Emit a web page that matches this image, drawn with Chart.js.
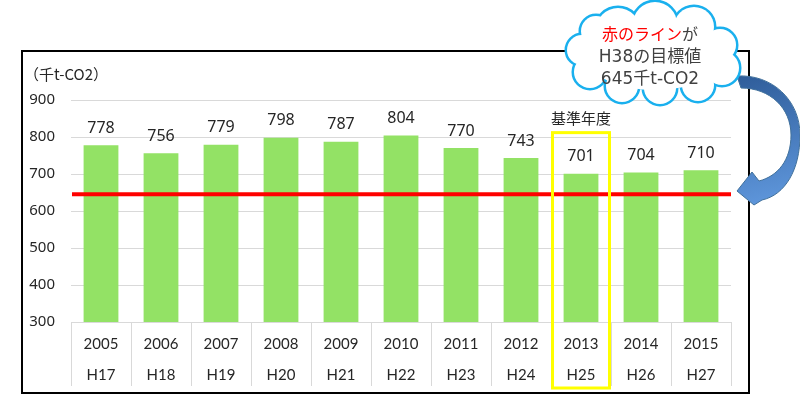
<!DOCTYPE html>
<html>
<head>
<meta charset="utf-8">
<script src="https://cdn.jsdelivr.net/npm/chart.js@4.4.0/dist/chart.umd.min.js"></script>
<style>
  html, body { margin: 0; padding: 0; background: #fff; }
  #wrap { position: relative; width: 800px; height: 396px; }
</style>
</head>
<body>
<div id="wrap"><canvas id="myChart" width="800" height="396"></canvas></div>
<script>
'use strict'

// DATA
var years = ["2005", "2006", "2007", "2008", "2009", "2010", "2011", "2012", "2013", "2014", "2015"];
var eras = ["H17", "H18", "H19", "H20", "H21", "H22", "H23", "H24", "H25", "H26", "H27"];
var emissions = [778, 756, 779, 798, 787, 804, 770, 743, 701, 704, 710];
var target = 645;
var baseYear = "2013";
var unitLabel = "（千t-CO2）";
var baseLabel = "基準年度";
var cloudLines = [["赤のライン", "が"], ["H38の目標値"], ["645千t-CO2"]];

var jp = '"Noto Sans CJK JP", "Noto Sans", sans-serif';
var num = '"Noto Sans", "Open Sans", sans-serif';

// circles that make the cloud outline
var cloudParts = [
    [618, 30, 22], [655, 24, 22], [694, 27, 20], [720, 45, 16], [722, 68, 17],
    [698, 85, 16], [660, 88, 16], [622, 86, 16], [590, 72, 16], [582, 50, 15], [596, 31, 15]
];

function drawCloud(ctx) {
    ctx.save();
    function shape() {
        cloudParts.forEach(function (c) {
            ctx.beginPath();
            ctx.arc(c[0], c[1], c[2], 0, Math.PI * 2);
            ctx.stroke();
            ctx.fill();
        });
        ctx.beginPath();
        ctx.ellipse(655, 57, 68, 33, 0, 0, Math.PI * 2);
        ctx.fill();
    }
    // thick blue pass, then white pass on top leaves the outer rim
    ctx.strokeStyle = '#1ab0ee';
    ctx.fillStyle = '#1ab0ee';
    ctx.lineWidth = 5;
    shape();
    ctx.strokeStyle = '#fff';
    ctx.fillStyle = '#fff';
    ctx.lineWidth = 0.01;
    shape();

    ctx.textBaseline = 'middle';
    ctx.textAlign = 'left';
    var ys = [34, 58, 80];
    cloudLines.forEach(function (parts, i) {
        ctx.font = i === 0 ? '16px ' + jp : '17px "DejaVu Sans", ' + jp;
        var w = 0;
        parts.forEach(function (p) { w += ctx.measureText(p).width; });
        var x = 650 - w / 2;
        parts.forEach(function (p, j) {
            ctx.fillStyle = (i === 0 && j === 0) ? '#ff0000' : '#404040';
            ctx.fillText(p, x, ys[i]);
            x += ctx.measureText(p).width;
        });
    });
    ctx.restore();
}

function drawArrow(ctx) {
    ctx.save();
    var g = ctx.createLinearGradient(740, 76, 770, 205);
    g.addColorStop(0, '#2f5d9a');
    g.addColorStop(1, '#5f97dc');
    ctx.beginPath();
    ctx.moveTo(737, 76);
    ctx.bezierCurveTo(772, 74, 800, 100, 800, 135);
    ctx.bezierCurveTo(800, 170, 785, 195, 762, 200);
    ctx.lineTo(754, 205);
    ctx.lineTo(737, 191);
    ctx.lineTo(752, 172);
    ctx.lineTo(759, 181);
    ctx.bezierCurveTo(778, 176, 791, 160, 791, 135);
    ctx.bezierCurveTo(791, 108, 770, 88, 741, 88);
    ctx.closePath();
    ctx.fillStyle = g;
    ctx.fill();
    ctx.strokeStyle = '#41719c';
    ctx.lineWidth = 1;
    ctx.stroke();
    ctx.restore();
}

var decor = {
    id: 'decor',
    beforeDraw: function (chart) {
        var ctx = chart.ctx;
        ctx.save();
        ctx.fillStyle = '#fff';
        ctx.fillRect(0, 0, chart.width, chart.height);
        ctx.strokeStyle = '#000';
        ctx.lineWidth = 2;
        ctx.strokeRect(22, 51, 727, 342);
        ctx.restore();
    },
    afterDatasetsDraw: function (chart) {
        var ctx = chart.ctx;
        var area = chart.chartArea;
        var x = chart.scales.x, y = chart.scales.y;
        var meta = chart.getDatasetMeta(0);
        ctx.save();

        // value labels
        ctx.font = '16px ' + num;
        ctx.fillStyle = '#262626';
        ctx.textAlign = 'center';
        ctx.textBaseline = 'middle';
        meta.data.forEach(function (bar, i) {
            ctx.fillText(String(emissions[i]), bar.x, bar.y - 17);
        });

        // target line
        var ty = y.getPixelForValue(target);
        ctx.strokeStyle = '#ff0000';
        ctx.lineWidth = 4;
        ctx.beginPath();
        ctx.moveTo(area.left + 1, ty);
        ctx.lineTo(area.right, ty);
        ctx.stroke();

        // base-year frame
        var bi = years.indexOf(baseYear);
        var bx = x.getPixelForValue(bi);
        var half = (x.getPixelForValue(1) - x.getPixelForValue(0)) * 0.475;
        var top = meta.data[bi].y - 41;
        ctx.strokeStyle = '#ffff00';
        ctx.lineWidth = 3;
        ctx.strokeRect(bx - half, top, half * 2, area.bottom + 66 - top);

        ctx.font = '15px ' + jp;
        ctx.fillStyle = '#262626';
        ctx.fillText(baseLabel, bx, top - 14);

        // unit label
        ctx.textAlign = 'left';
        ctx.fillText(unitLabel, 24, 74);
        ctx.restore();
    },
    afterDraw: function (chart) {
        drawArrow(chart.ctx);
        drawCloud(chart.ctx);
    }
};

var ctx = document.getElementById('myChart').getContext('2d');

var chart = new Chart(ctx, {
    type: 'bar',
    data: {
        labels: years.map(function (yr, i) { return [yr, eras[i]]; }),
        datasets: [{
            data: emissions,
            backgroundColor: '#93e265',
            barPercentage: 0.58,
            categoryPercentage: 1
        }]
    },
    options: {
        responsive: false,
        animation: false,
        devicePixelRatio: 1,
        layout: { padding: { left: 21, right: 69, top: 100, bottom: 0 } },
        plugins: {
            legend: { display: false },
            tooltip: { enabled: false }
        },
        scales: {
            x: {
                offset: true,
                grid: { offset: true, drawOnChartArea: false, drawTicks: true, tickLength: 64, color: '#d9d9d9' },
                border: { display: true, color: '#d9d9d9' },
                ticks: {
                    padding: -58,
                    color: '#262626',
                    maxRotation: 0,
                    autoSkip: false,
                    font: { family: 'Lato, "Liberation Sans", sans-serif', size: 15, lineHeight: 2.1 }
                },
                afterFit: function (s) { s.height = 74; }
            },
            y: {
                min: 300,
                max: 900,
                grid: { color: '#d9d9d9', drawTicks: false },
                border: { display: false },
                ticks: {
                    stepSize: 100,
                    padding: 16,
                    color: '#262626',
                    font: { family: num, size: 15 }
                },
                afterFit: function (s) { s.width = 50; }
            }
        }
    },
    plugins: [decor]
});
</script>
</body>
</html>
